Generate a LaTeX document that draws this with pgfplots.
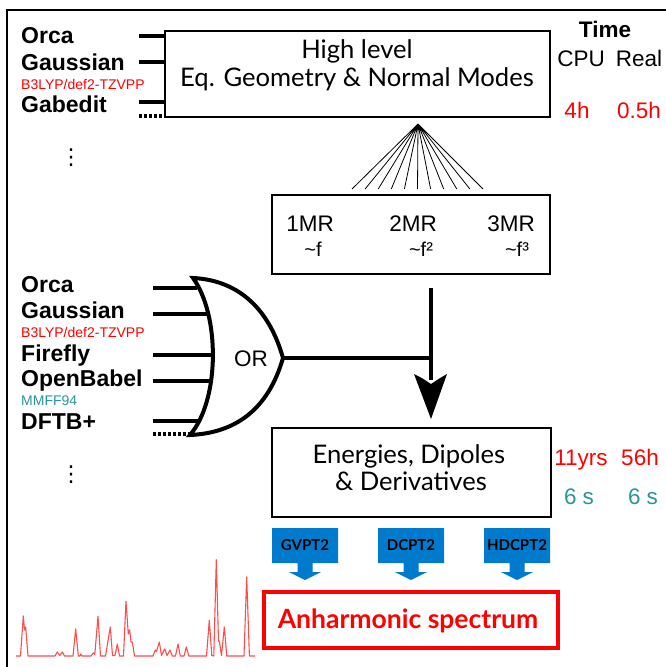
\documentclass[border=0pt]{standalone}
\usepackage{fontspec}
\setmainfont{Liberation Sans}
\newfontfamily\lato{Lato}
\newfontfamily\dejavu{DejaVu Sans}
\usepackage{pgfplots}
\pgfplotsset{compat=1.18}
\definecolor{tealc}{RGB}{40,150,150}
\definecolor{bluec}{RGB}{0,122,204}
\definecolor{redc}{RGB}{255,0,0}
\newcommand{\fs}[1]{\fontsize{#1bp}{#1bp}\selectfont}
\begin{document}
\begin{tikzpicture}
\begin{axis}[name=main, scale only axis, width=666bp, height=667bp,
  xmin=0, xmax=666, ymin=0, ymax=667, y dir=reverse, hide axis, clip=false]
% frame
\draw[line width=1.5bp] (7,667) -- (7,10) -- (666,10);
% ---------- top left labels ----------
\node[anchor=base west, inner sep=0, font=\bfseries\fs{23}] at (21,44) {Orca};
\node[anchor=base west, inner sep=0, font=\bfseries\fs{23}] at (21,71) {Gaussian};
\node[anchor=base west, inner sep=0, font=\fs{14}, text=redc] at (21,90) {B3LYP/def2-TZVPP};
\node[anchor=base west, inner sep=0, font=\bfseries\fs{23}] at (21,112) {Gabedit};
\draw[line width=4bp] (139,36) -- (165,36);
\draw[line width=4bp] (139,62) -- (165,62);
\draw[line width=4bp] (139,102) -- (165,102);
\draw[line width=4bp, dash pattern=on 3bp off 2bp] (139,116) -- (165,116);
\node[font=\dejavu\fs{22}, inner sep=0] at (71,158) {⋮};
% box 1
\draw[line width=2.5bp] (165,31) rectangle (550,117);
\node[anchor=base, inner sep=0, font=\lato\fs{25.6}] at (357,59) {High level};
\node[anchor=base, inner sep=0, font=\lato\fs{25.6}] at (357,87) {Eq. Geometry \& Normal Modes};
% time header
\node[anchor=base, inner sep=0, font=\bfseries\fs{22.5}] at (605,38) {Time};
\node[anchor=base, inner sep=0, font=\fs{22.5}] at (581,67) {CPU};
\node[anchor=base, inner sep=0, font=\fs{22.5}] at (639,67) {Real};
\node[anchor=base, inner sep=0, font=\fs{22.5}, text=redc] at (577,118) {4h};
\node[anchor=base, inner sep=0, font=\fs{22.5}, text=redc] at (639,118) {0.5h};
% fan
\draw[line width=0.8bp]
 (418,124) -- (352,189) (418,124) -- (365.1,189) (418,124) -- (378.2,189)
 (418,124) -- (391.3,189) (418,124) -- (404.4,189) (418,124) -- (417.5,189)
 (418,124) -- (430.6,189) (418,124) -- (443.7,189) (418,124) -- (456.8,189)
 (418,124) -- (469.9,189) (418,124) -- (483,189);
% box 2
\draw[line width=2bp] (272,195) rectangle (550,274);
\node[anchor=base, inner sep=0, font=\fs{22.5}] at (310,231) {1MR};
\node[anchor=base, inner sep=0, font=\fs{22.5}] at (413,231) {2MR};
\node[anchor=base, inner sep=0, font=\fs{22.5}] at (511,231) {3MR};
\node[anchor=base, inner sep=0, font=\fs{20}] at (313,256) {\textasciitilde f};
\node[anchor=base, inner sep=0, font=\fs{20}] at (421,256) {\textasciitilde f²};
\node[anchor=base, inner sep=0, font=\fs{20}] at (517,256) {\textasciitilde f³};
% ---------- lower left labels ----------
\node[anchor=base west, inner sep=0, font=\bfseries\fs{23}] at (21,292) {Orca};
\node[anchor=base west, inner sep=0, font=\bfseries\fs{23}] at (21,318) {Gaussian};
\node[anchor=base west, inner sep=0, font=\fs{14}, text=redc] at (21,337) {B3LYP/def2-TZVPP};
\node[anchor=base west, inner sep=0, font=\bfseries\fs{23}] at (21,361) {Firefly};
\node[anchor=base west, inner sep=0, font=\bfseries\fs{23}] at (21,386) {OpenBabel};
\node[anchor=base west, inner sep=0, font=\fs{14}, text=tealc] at (21,405) {MMFF94};
\node[anchor=base west, inner sep=0, font=\bfseries\fs{23}] at (21,429) {DFTB+};
\node[font=\dejavu\fs{22}, inner sep=0] at (71,475) {⋮};
% inputs to OR
\draw[line width=4bp] (153,288) -- (197,288);
\draw[line width=4bp] (153,314) -- (208,314);
\draw[line width=4bp] (153,355) -- (213,355);
\draw[line width=4bp] (153,381) -- (212,381);
\draw[line width=4bp] (153,421) -- (203,421);
\draw[line width=4bp, dash pattern=on 3bp off 2bp] (153,434) -- (190,434);
% OR gate
\draw[line width=4bp, fill=white, line join=miter]
 (193,278) .. controls (235,280) and (268,305) .. (283,358)
 .. controls (268,410) and (235,433) .. (190,435)
 .. controls (220,400) and (220,315) .. cycle;
\node[font=\fs{22.5}, inner sep=0, anchor=base] at (251,366) {OR};
% connectors
\draw[line width=4bp] (283,358) -- (433,358);
\draw[line width=4bp] (431,288) -- (431,380);
\fill (414,374) .. controls (422,378) .. (431,384) .. controls (440,378) .. (447,374)
 -- (431,419) -- cycle;
% box 3
\draw[line width=2.5bp] (272,428) rectangle (551,517);
\node[anchor=base, inner sep=0, font=\lato\fs{25.6}] at (409,463) {Energies, Dipoles};
\node[anchor=base, inner sep=0, font=\lato\fs{25.6}] at (411,490) {\& Derivatives};
\node[anchor=base, inner sep=0, font=\fs{22.5}, text=redc] at (581,465) {11yrs};
\node[anchor=base, inner sep=0, font=\fs{22.5}, text=redc] at (640,465) {56h};
\node[anchor=base, inner sep=0, font=\fs{22.5}, text=tealc] at (579,504) {6 s};
\node[anchor=base, inner sep=0, font=\fs{22.5}, text=tealc] at (643,504) {6 s};
% blue arrows
\fill[bluec] (272,528) -- (338,528) -- (338,563) -- (312.5,563) -- (312.5,572) -- (321,572)
 -- (305,580) -- (289,572) -- (297.5,572) -- (297.5,563) -- (272,563) -- cycle;
\fill[bluec] (378,528) -- (444,528) -- (444,563) -- (418.5,563) -- (418.5,572) -- (427,572)
 -- (411,580) -- (395,572) -- (403.5,572) -- (403.5,563) -- (378,563) -- cycle;
\fill[bluec] (484,528) -- (550,528) -- (550,563) -- (524.5,563) -- (524.5,572) -- (533,572)
 -- (517,580) -- (501,572) -- (509.5,572) -- (509.5,563) -- (484,563) -- cycle;
\node[anchor=base, inner sep=0, font=\lato\bfseries\fs{15}] at (305,550) {GVPT2};
\node[anchor=base, inner sep=0, font=\lato\bfseries\fs{15}] at (411,550) {DCPT2};
\node[anchor=base, inner sep=0, font=\lato\bfseries\fs{15}] at (517,550) {HDCPT2};
% result box
\draw[line width=3.5bp, redc] (264,592) rectangle (558,648);
\node[anchor=base, inner sep=0, font=\lato\bfseries\fs{26.5}, text=redc] at (408,628) {Anharmonic spectrum};
\end{axis}
% spectrum
\begin{axis}[at={(16bp,11bp)}, anchor=south west, scale only axis, width=239bp, height=96.3bp,
  xmin=16, xmax=255, ymin=0, ymax=96.3, hide axis, clip=false]
\addplot[red!70, line width=1.1bp, line join=round] coordinates {
(16,0) (20.5,0) (23.3,40) (24.5,26) (25.7,29) (28,0)
(55,0) (57.3,4) (59.8,0.5) (62.3,4) (64.5,0)
(73,0) (75.7,27) (78.3,0) (80,0) (80.7,2) (82,0)
(91,0) (93.3,3) (94.8,1.5) (98,39.7) (100.5,0)
(105.5,0) (108.3,17) (110.3,29) (112.5,0.5) (115,0.5) (117.3,12) (119.5,0)
(123.5,0) (126,54.7) (128.3,22) (129.7,26) (131,14) (132.3,14) (134.5,0)
(153,0) (155.3,6) (156.5,4.5) (159.3,14) (161.5,0.5) (164.7,7) (167,0.5) (170,6) (172.3,0)
(175.5,0) (178,12) (180.3,0) (184,0) (186.3,9) (188.8,0)
(206.5,0) (209.3,35.7) (211.8,0.5) (213.8,0) (216.3,96.3) (218.5,15) (219.3,15) (221.5,0.5) (224.3,29) (226.8,0)
(244,0) (246.7,79) (249.4,0) (255,0)
};
\end{axis}
\pgfresetboundingbox
\useasboundingbox (0,0) rectangle (666bp,667bp);
\end{tikzpicture}
\end{document}
